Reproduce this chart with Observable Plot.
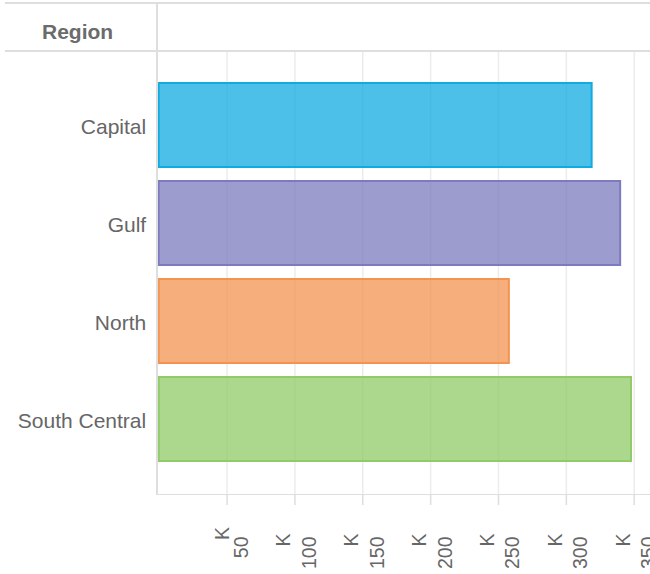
<!DOCTYPE html>
<html><head><meta charset="utf-8">
<script src="https://cdn.jsdelivr.net/npm/d3@7"></script>
<script src="https://cdn.jsdelivr.net/npm/@observablehq/plot@0.6"></script>
<style>
body{margin:0;background:#fff;font-family:"Liberation Sans",Arial,sans-serif}
#wrap{position:relative;width:650px;height:574px;overflow:hidden}
#wrap svg{position:absolute;left:0;top:0}
.ln{position:absolute;background:#dedede}
#hdr{position:absolute;left:42px;top:22px;font-size:21px;line-height:20px;font-weight:bold;color:#6b6b6b;white-space:nowrap}
</style></head><body>
<div id="wrap"></div>
<script>
const regions = ["Capital", "Gulf", "North", "South Central"];
const totals = [319000, 340000, 258000, 348000];
const colors = ["#10abe0", "#7c7bbf", "#f39350", "#90cb68"];
const tickValues = [50000, 100000, 150000, 200000, 250000, 300000, 350000];
const headerText = "Region";

const data = regions.map((r, i) => ({region: r, value: totals[i]}));
const font = "Liberation Sans, Arial, sans-serif";

const chart = Plot.plot({
  width: 650, height: 574,
  marginTop: 51, marginBottom: 80, marginLeft: 158.7, marginRight: 0,
  style: {fontFamily: font, background: "transparent", color: "#666"},
  x: {domain: [0, 362000]},
  y: {domain: regions, paddingInner: 0.14, paddingOuter: 0.32},
  color: {domain: regions, range: colors},
  marks: [
    Plot.gridX(tickValues, {stroke: "#ececec", strokeOpacity: 1, strokeWidth: 1.5}),
    Plot.barX(data, {y: "region", x: "value", fill: "region", fillOpacity: 0.75, stroke: "region", strokeWidth: 2}),
    Plot.axisY({tickSize: 0, tickPadding: 13, fontSize: 21, fill: "#666", label: null, dy: 2}),
    Plot.axisX(tickValues, {tickSize: 11, stroke: "#dedede", strokeWidth: 1.5, fill: "none", label: null}),
    Plot.axisX(tickValues, {tickSize: 0, tickPadding: 0, tickRotate: -90, tickFormat: d => String(d / 1000),
      textAnchor: "end", lineAnchor: "bottom", dx: 21, dy: 42, fontSize: 19.5, fill: "#666", stroke: "none", label: null}),
    Plot.axisX(tickValues.slice(0, 1), {tickSize: 0, tickPadding: 0, tickRotate: -90, tickFormat: () => "K",
      textAnchor: "end", lineAnchor: "bottom", dx: 1.5, dy: 32.5, fontSize: 19.5, fill: "#666", stroke: "none", label: null}),
    Plot.axisX(tickValues.slice(1), {tickSize: 0, tickPadding: 0, tickRotate: -90, tickFormat: () => "K",
      textAnchor: "end", lineAnchor: "bottom", dx: -4.5, dy: 39, fontSize: 19.5, fill: "#666", stroke: "none", label: null})
  ]
});

const wrap = document.getElementById("wrap");
wrap.appendChild(chart);
const hdr = document.createElement("div");
hdr.id = "hdr";
hdr.textContent = headerText;
wrap.appendChild(hdr);
const lines = [
  {left: 5, top: 2, width: 645, height: 1.5},
  {left: 5, top: 50, width: 645, height: 1.5},
  {left: 156, top: 2, width: 1.5, height: 493},
  {left: 156, top: 493.5, width: 494, height: 1.5}
];
for (const l of lines) {
  const d = document.createElement("div");
  d.className = "ln";
  Object.assign(d.style, {left: l.left + "px", top: l.top + "px", width: l.width + "px", height: l.height + "px"});
  wrap.appendChild(d);
}
</script>
</body></html>
